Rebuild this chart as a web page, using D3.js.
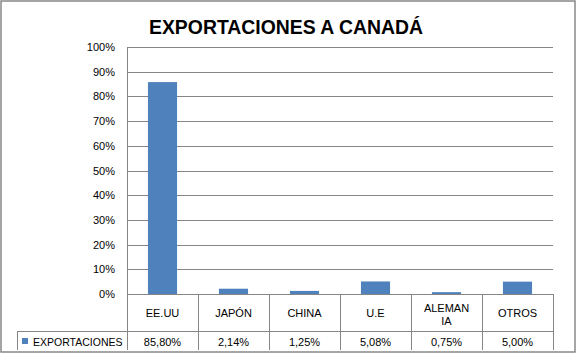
<!DOCTYPE html>
<html lang="es">
<head>
    <meta charset="UTF-8">
    <title>Exportaciones a Canadá</title>
    <style>
        body { margin: 0; background: #fff; }
        text { font-family: 'Liberation Sans', Arial, sans-serif; fill: #000; }
    </style>
</head>
<body>

    <svg id="svg" width="577" height="354"></svg>

    <script src="https://d3js.org/d3.v7.min.js"></script>
    <script>
        // data
        const categories = ['EE.UU', 'JAPÓN', 'CHINA', 'U.E', 'ALEMANIA', 'OTROS']
        const catLines = [['EE.UU'], ['JAPÓN'], ['CHINA'], ['U.E'], ['ALEMAN', 'IA'], ['OTROS']]
        const values = [85.80, 2.14, 1.25, 5.08, 0.75, 5.00]
        const yTicks = [0, 10, 20, 30, 40, 50, 60, 70, 80, 90, 100]
        const seriesName = 'EXPORTACIONES'

        const es = d3.formatLocale({ decimal: ',', thousands: '.', grouping: [3], currency: ['', '€'] })
        const fmtVal = v => es.format('.2f')(v) + '%'

        const svg = d3.select('#svg')
        const gridColor = '#868686'
        const barColor = '#4f81bd'

        // frame
        svg.append('rect')
            .attr('x', 1).attr('y', 1)
            .attr('width', 574).attr('height', 351)
            .attr('fill', 'none')
            .attr('stroke', '#888')
            .attr('stroke-width', 1.5)

        svg.append('text')
            .text('EXPORTACIONES A CANADÁ')
            .attr('x', 286).attr('y', 34)
            .attr('text-anchor', 'middle')
            .attr('textLength', 274)
            .attr('lengthAdjust', 'spacingAndGlyphs')
            .style('font-size', '21px')
            .style('font-weight', 'bold')

        const plotL = 127, plotR = 553, plotT = 47, plotB = 294
        const rowMid = 331, rowEnd = 350, legendLeft = 17

        const xScale = d3.scaleBand()
            .domain(categories)
            .range([plotL, plotR])
            .padding(0)

        const yScale = d3.scaleLinear()
            .domain([0, 100])
            .range([plotB, plotT])

        // gridlines
        svg.append('g')
            .selectAll('line')
            .data(yTicks)
            .join('line')
            .attr('x1', plotL).attr('x2', plotR)
            .attr('y1', d => Math.round(yScale(d)) + 0.5)
            .attr('y2', d => Math.round(yScale(d)) + 0.5)
            .attr('stroke', gridColor)

        // y labels
        svg.append('g')
            .selectAll('text')
            .data(yTicks)
            .join('text')
            .text(d => d + '%')
            .attr('x', 115)
            .attr('y', d => yScale(d) + 4)
            .attr('text-anchor', 'end')
            .style('font-size', '11px')

        // bars
        const barW = xScale.bandwidth() * 0.41
        svg.append('g')
            .selectAll('rect')
            .data(values)
            .join('rect')
            .attr('x', (d, i) => xScale(categories[i]) + (xScale.bandwidth() - barW) / 2)
            .attr('width', barW)
            .attr('y', d => yScale(d))
            .attr('height', d => plotB - yScale(d))
            .attr('fill', barColor)

        // data table lines
        const table = svg.append('g').attr('stroke', gridColor).attr('shape-rendering', 'crispEdges')
        table.append('line')
            .attr('x1', plotL + 0.5).attr('x2', plotL + 0.5)
            .attr('y1', plotT).attr('y2', rowEnd)
        table.selectAll('.col')
            .data(categories)
            .join('line')
            .attr('class', 'col')
            .attr('x1', d => Math.round(xScale(d) + xScale.bandwidth()) + 0.5)
            .attr('x2', d => Math.round(xScale(d) + xScale.bandwidth()) + 0.5)
            .attr('y1', plotB).attr('y2', rowEnd)
        table.append('line')
            .attr('x1', legendLeft).attr('x2', plotR)
            .attr('y1', rowMid + 0.5).attr('y2', rowMid + 0.5)
        table.append('line')
            .attr('x1', legendLeft + 0.5).attr('x2', legendLeft + 0.5)
            .attr('y1', rowMid).attr('y2', rowEnd)

        // category labels
        svg.append('g')
            .selectAll('text')
            .data(categories)
            .join('text')
            .attr('x', d => xScale(d) + xScale.bandwidth() / 2)
            .attr('y', (d, i) => catLines[i].length > 1 ? 311.5 : 317)
            .attr('text-anchor', 'middle')
            .style('font-size', '11px')
            .selectAll('tspan')
            .data((d, i) => catLines[i])
            .join('tspan')
            .attr('x', function () { return this.parentNode.getAttribute('x') })
            .attr('dy', (d, j) => j ? 13.5 : 0)
            .text(d => d)

        // value row
        svg.append('g')
            .selectAll('text')
            .data(values)
            .join('text')
            .text(d => fmtVal(d))
            .attr('x', (d, i) => xScale(categories[i]) + xScale.bandwidth() / 2)
            .attr('y', 345.5)
            .attr('text-anchor', 'middle')
            .style('font-size', '11px')

        // legend key
        svg.append('rect')
            .attr('x', 22).attr('y', 338)
            .attr('width', 6).attr('height', 6)
            .attr('fill', barColor)
        svg.append('text')
            .text(seriesName)
            .attr('x', 33).attr('y', 345.5)
            .style('font-size', '10.5px')
    </script>
</body>
</html>
